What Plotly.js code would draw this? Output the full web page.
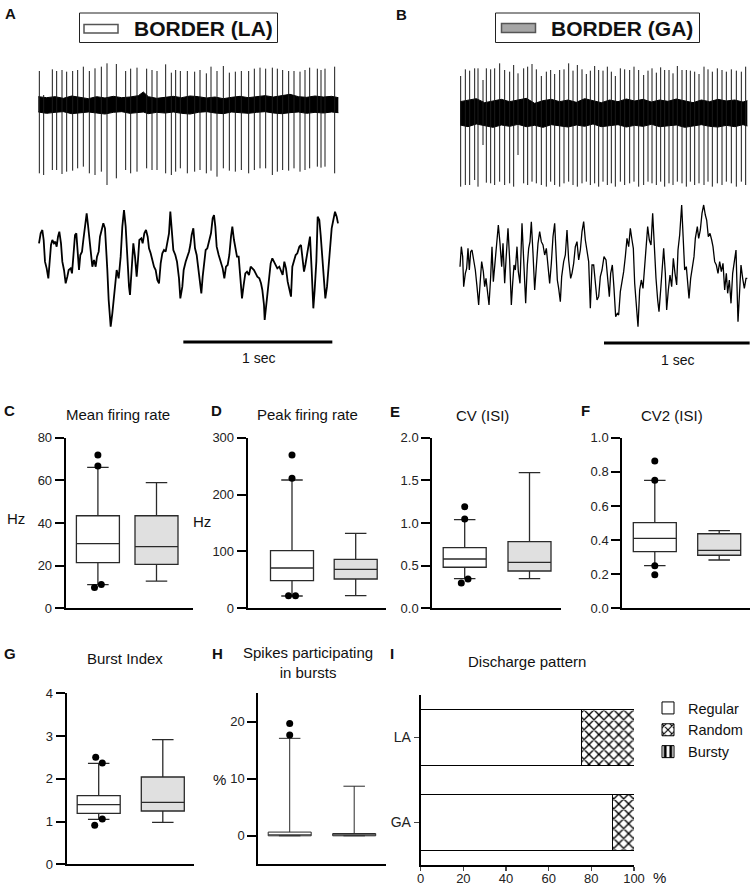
<!DOCTYPE html>
<html><head><meta charset="utf-8">
<script src="https://cdn.plot.ly/plotly-3.0.1.min.js"></script>
<style>html,body{margin:0;padding:0;background:#fff}#chart{width:756px;height:888px}</style>
</head><body><div id="chart"></div>
<script>
// ---------------- DATA ----------------
// Raw traces: horizontal readings in trace units (A: 447 units = 1 s, B: 437 units = 1 s),
// vertical readings in trace units (larger = lower on the page).
const spikeA_x = [118,131,157,170,186,200,218,233,250,268,285,304,321,349,377,392,411,440,456,471,497,514,527,541,562,584,600,619,633,651,670,688,706,724,746,763,780,797,817,832,848,866,882,900,915,929,952,963,975,1004];
const spikeA_top = [213,285,208,213,210,215,213,210,200,213,205,200,190,192,213,206,203,206,210,213,193,218,210,213,213,215,210,220,200,213,198,218,215,213,213,206,203,206,203,206,210,213,213,215,210,203,206,210,206,200];
const spikeA_bot = [520,525,510,510,522,515,512,505,500,520,525,515,555,535,510,520,515,505,510,510,520,525,515,505,520,515,510,520,512,530,505,512,515,510,520,510,505,505,525,515,510,512,505,515,510,505,500,503,500,520];
const noiseA_x = [115,140,165,190,215,240,265,290,315,340,365,390,415,430,445,470,495,520,545,570,595,620,645,670,695,720,745,770,795,820,845,870,895,920,945,970,995,1015];
const noiseA_top = [290,293,290,295,288,292,296,290,294,289,293,291,287,276,290,295,292,289,293,288,290,294,291,296,292,289,293,290,287,291,288,283,290,292,288,291,289,293];
const noiseA_bot = [336,340,337,335,341,338,336,339,342,337,335,340,338,336,341,337,339,336,340,342,337,335,339,341,336,338,340,337,335,339,341,338,336,340,337,339,336,338];
const lfpA_x = [117,122,127,131,135,140,145,150,153,157,162,166,170,174,178,183,187,192,197,202,206,212,216,220,225,229,233,237,241,246,250,255,260,264,268,272,277,282,287,291,296,300,305,310,315,318,322,326,332,337,341,346,350,356,362,367,372,377,381,387,390,395,400,405,410,414,418,424,428,433,438,443,447,452,457,462,467,472,477,482,487,492,497,502,507,511,516,520,526,531,537,541,547,551,557,562,567,571,575,580,585,590,596,600,604,608,613,617,622,627,633,638,642,646,650,656,662,668,673,678,683,688,693,697,702,706,711,716,721,726,731,736,741,747,752,757,762,767,772,778,783,787,792,794,798,803,807,812,817,822,827,832,838,843,848,853,858,863,868,873,877,882,887,892,898,903,908,912,916,921,926,930,935,940,944,949,953,958,962,967,971,976,981,986,990,995,1000,1005,1010,1014];
const lfpA_y = [160,130,120,150,215,235,265,200,165,150,160,155,170,140,125,160,215,240,280,260,240,235,250,200,135,130,175,240,195,185,150,105,70,105,140,180,230,210,230,200,185,140,115,100,115,160,240,330,410,370,330,285,240,265,200,110,60,110,200,290,315,230,160,200,260,210,150,145,160,130,120,140,175,190,215,230,240,270,280,220,190,180,185,150,130,65,120,180,195,215,265,325,290,240,215,200,185,165,135,115,175,195,250,280,310,260,205,180,175,150,130,85,75,110,170,195,215,235,265,230,225,195,140,110,150,175,200,200,255,325,285,250,245,255,230,235,240,250,260,265,280,300,345,390,350,310,260,220,205,215,225,235,230,245,255,215,235,275,300,320,230,210,195,190,170,165,205,245,225,195,165,140,240,355,300,215,80,90,135,210,270,325,290,220,170,115,90,65,80,100];

const spikeB_x = [248,262,275,290,300,315,325,338,350,365,380,395,407,420,437,449,462,475,490,505,518,530,545,558,572,585,598,612,625,637,650,662,675,688,700,712,727,740,755,768,782,797,810,822,835,848,860,873,885,898,912,925,937,950,963,978,990,1003,1018,1032,1045,1060,1075,1090,1103];
const spikeB_top = [228,208,212,205,205,240,205,208,205,190,210,215,195,220,205,200,192,208,228,215,210,222,210,208,190,212,195,208,222,212,198,210,212,200,215,228,205,208,210,200,210,225,212,205,218,202,210,210,220,198,210,210,212,215,222,200,208,215,205,210,215,208,212,215,200];
const spikeB_bot = [560,555,555,540,560,435,548,550,555,545,555,550,560,465,550,555,545,550,555,560,545,555,560,550,545,555,560,550,545,555,550,560,545,555,550,560,545,555,550,545,560,555,545,550,555,545,560,550,555,545,550,560,545,555,550,555,545,560,550,555,545,550,560,545,555];
const noiseB_x = [246,270,295,320,345,370,395,420,445,470,495,520,545,570,595,620,645,670,695,720,745,770,795,820,845,870,895,920,945,970,995,1020,1045,1070,1095,1108];
const noiseB_top = [305,300,296,308,302,298,305,300,295,310,302,298,305,300,307,296,302,308,300,305,297,303,298,306,300,304,297,302,308,300,305,298,303,300,306,302];
const noiseB_bot = [375,380,372,378,382,375,379,373,380,376,382,374,378,381,375,379,372,380,377,374,381,376,379,373,380,377,375,382,378,374,379,381,376,380,374,378];
const lfpB_x = [246,250,254,257,262,266,270,274,278,282,287,292,297,302,307,311,316,320,324,329,333,338,342,346,351,356,361,366,371,375,380,384,390,395,400,404,408,412,417,421,426,432,437,443,448,452,456,460,465,470,475,480,485,490,495,500,505,510,515,520,525,530,534,538,542,547,551,557,562,567,572,578,582,587,592,597,602,607,612,617,622,627,632,637,642,647,652,657,662,667,672,678,684,689,694,698,703,708,713,718,722,727,732,737,742,747,752,757,762,766,770,775,780,785,790,795,800,805,809,814,819,824,829,834,839,843,848,852,857,862,866,871,876,881,886,891,896,900,905,911,915,920,925,929,933,938,943,948,952,958,962,967,972,977,982,986,991,996,1001,1005,1010,1015,1020,1025,1030,1035,1040,1045,1049,1054,1059,1064,1069,1074,1080,1084,1089,1094,1099,1104,1108];
const lfpB_y = [230,170,200,290,250,235,175,240,185,180,210,240,290,345,270,215,245,290,265,310,345,260,170,275,220,150,105,160,230,160,280,210,115,210,345,280,225,240,170,245,280,100,215,340,225,175,155,95,190,300,230,160,125,155,165,195,175,225,280,220,140,100,180,270,295,335,260,215,195,120,210,265,250,220,170,155,210,180,125,95,150,185,215,355,225,225,270,330,320,260,240,200,210,280,320,250,225,295,380,370,375,305,280,245,200,145,170,115,150,175,280,350,410,300,270,295,225,160,110,150,165,70,175,265,330,365,300,230,175,250,360,300,255,290,205,250,285,180,135,45,155,240,230,280,325,265,235,200,145,110,145,120,70,45,75,90,140,130,150,170,215,225,250,215,245,220,300,250,310,270,340,250,215,180,395,305,225,265,295,265,265];

// Box plots: [lower whisker, Q1, median, Q3, upper whisker]
const groups = ['LA', 'GA'];
const meanRateLA = [11.1, 21.4, 30.3, 43.4, 66.1];
const meanRateGA = [12.7, 20.6, 28.9, 43.4, 58.9];
const meanRateOutLA = [71.9, 66.7, 11.2, 9.7];
const peakRateLA = [21.6, 48.5, 70.9, 101.3, 225.6];
const peakRateGA = [22.2, 51.5, 68.6, 86.2, 131.9];
const peakRateOutLA = [269.7, 228.6, 22, 22];
const cvLA = [0.347, 0.481, 0.578, 0.711, 1.039];
const cvGA = [0.347, 0.437, 0.539, 0.781, 1.59];
const cvOutLA = [1.191, 1.047, 0.343, 0.297];
const cv2LA = [0.25, 0.332, 0.41, 0.502, 0.75];
const cv2GA = [0.283, 0.311, 0.34, 0.437, 0.455];
const cv2OutLA = [0.863, 0.75, 0.25, 0.197];
const burstLA = [1.053, 1.193, 1.394, 1.605, 2.363];
const burstGA = [0.982, 1.247, 1.45, 2.042, 2.915];
const burstOutLA = [2.503, 2.37, 1.06, 0.912];
const spikesBurstLA = [0, 0, 0.1, 0.65, 17.1];
const spikesBurstGA = [0, 0, 0.05, 0.4, 8.7];
const spikesBurstOutLA = [19.7, 17.7];

// Discharge pattern (%), order = groups
const patternNames = ['Regular', 'Random', 'Bursty'];
const regularPct = [75.5, 89.8];
const randomPct = [24.5, 10.2];
const burstyPct = [0, 0];

// ---------------- LAYOUT HELPERS ----------------
const W = 756, H = 888;
const FONT = 'Liberation Sans, Arial, sans-serif';
const dom = (a, b) => [a / W, b / W];
const domY = (top, bot) => [1 - bot / H, 1 - top / H];
const tA = v => (v - 117) / 447;
const tB = v => (v - 248) / 437;

const traces = [];
const layout = {
  width: W, height: H, autosize: false,
  margin: {l: 0, r: 0, t: 0, b: 0},
  paper_bgcolor: '#fff', plot_bgcolor: 'rgba(0,0,0,0)',
  font: {family: FONT, color: '#111'},
  showlegend: true,
  barmode: 'stack', bargap: 0.333,
  shapes: [], annotations: []
};
const hidden = {visible: false, fixedrange: true};

// ---- Panels A & B : raw traces ----
function rawPanel(xName, ySpk, yLfp, conv, sx, stop, sbot, nx, ntop, nbot, lx, ly, lw) {
  const xa = 'x' + (xName === 1 ? '' : xName);
  const ys = 'y' + (ySpk === 1 ? '' : ySpk);
  const yl = 'y' + yLfp;
  traces.push({type: 'scatter', mode: 'lines', x: nx.map(conv), y: nbot, xaxis: xa, yaxis: ys,
    line: {color: '#000', width: 1}, showlegend: false, hoverinfo: 'skip'});
  traces.push({type: 'scatter', mode: 'lines', x: nx.map(conv), y: ntop, xaxis: xa, yaxis: ys,
    fill: 'tonexty', fillcolor: '#000', line: {color: '#000', width: 1}, showlegend: false, hoverinfo: 'skip'});
  const xs = [], yv = [];
  sx.forEach((v, i) => { xs.push(conv(v), conv(v), null); yv.push(stop[i], sbot[i], null); });
  traces.push({type: 'scatter', mode: 'lines', x: xs, y: yv, xaxis: xa, yaxis: ys,
    line: {color: '#1a1a1a', width: 1}, showlegend: false, hoverinfo: 'skip'});
  traces.push({type: 'scatter', mode: 'lines', x: lx.map(conv), y: ly, xaxis: xa, yaxis: yl,
    line: {color: '#000', width: lw}, showlegend: false, hoverinfo: 'skip'});
}
rawPanel(1, 1, 2, tA, spikeA_x, spikeA_top, spikeA_bot, noiseA_x, noiseA_top, noiseA_bot, lfpA_x, lfpA_y, 1.8);
rawPanel(2, 3, 4, tB, spikeB_x, spikeB_top, spikeB_bot, noiseB_x, noiseB_top, noiseB_bot, lfpB_x, lfpB_y, 1.3);
layout.xaxis = Object.assign({domain: dom(30, 345), range: [tA(90), tA(1035)], anchor: 'y'}, hidden);
layout.yaxis = Object.assign({domain: domY(55, 195), range: [585, 165], anchor: 'x'}, hidden);
layout.yaxis2 = Object.assign({domain: domY(195, 335), range: [435, 15], anchor: 'x'}, hidden);
layout.xaxis2 = Object.assign({domain: dom(450, 756), range: [tB(216), tB(1134)], anchor: 'y3'}, hidden);
layout.yaxis3 = Object.assign({domain: domY(55, 200), range: [600, 165], anchor: 'x2'}, hidden);
layout.yaxis4 = Object.assign({domain: domY(195, 335), range: [435, 15], anchor: 'x2'}, hidden);

// scale bars (1 s)
const SCALE_SEC = 1;
layout.shapes.push({type: 'line', xref: 'x', yref: 'paper', x0: tA(997) - SCALE_SEC, x1: tA(997), y0: 1 - 342 / H, y1: 1 - 342 / H, line: {color: '#000', width: 3}});
layout.shapes.push({type: 'line', xref: 'x2', yref: 'paper', x0: tB(1115) - SCALE_SEC, x1: tB(1115), y0: 1 - 343 / H, y1: 1 - 343 / H, line: {color: '#000', width: 3}});

// Legend boxes at top
function px(x, y) { return {x: x / W, y: 1 - y / H}; }
function rect(x0, y0, x1, y1, fill, lc, lw) {
  layout.shapes.push({type: 'rect', xref: 'paper', yref: 'paper', x0: x0 / W, x1: x1 / W, y0: 1 - y1 / H, y1: 1 - y0 / H,
    fillcolor: fill, line: {color: lc, width: lw}});
}
rect(79.5, 13, 277.5, 42.5, 'rgba(0,0,0,0)', '#222', 1);
rect(84, 24.5, 118, 33, '#fff', '#555', 1.5);
rect(495.5, 13, 699.5, 42.5, 'rgba(0,0,0,0)', '#222', 1);
rect(501.5, 23.5, 535.5, 32.5, '#a6a6a6', '#555', 1.5);

function ann(text, x, y, size, opts) {
  const p = px(x, y);
  layout.annotations.push(Object.assign({text: text, xref: 'paper', yref: 'paper', x: p.x, y: p.y,
    xanchor: 'center', yanchor: 'middle', showarrow: false, font: {family: FONT, size: size, color: '#111'}}, opts || {}));
}
ann('<b>BORDER (LA)</b>', 203, 28, 21);
ann('<b>BORDER (GA)</b>', 622, 28, 21);
ann('1 sec', 258, 358, 14);
ann('1 sec', 677, 360, 14);

// ---- Box plot panels ----
const boxPanels = [
  {n: 3, xs: 65.7, xe: 193.3, cL: 97.9, cG: 156.5, top: 437.7, bot: 608.3, yr: [0, 80], tv: [0, 20, 40, 60, 80], fmt: '', LA: meanRateLA, GA: meanRateGA, out: meanRateOutLA, jit: [0, 0, 3.4, -3.4]},
  {n: 4, xs: 247.7, xe: 386, cL: 292, cG: 355.7, top: 437.7, bot: 608.3, yr: [0, 300], tv: [0, 100, 200, 300], fmt: '', LA: peakRateLA, GA: peakRateGA, out: peakRateOutLA, jit: [0, 0, -3.5, 3.5]},
  {n: 5, xs: 432.3, xe: 561, cL: 464.7, cG: 529.5, top: 437.7, bot: 608.3, yr: [0, 2], tv: [0, 0.5, 1, 1.5, 2], fmt: '.1f', LA: cvLA, GA: cvGA, out: cvOutLA, jit: [0, 0, 3.3, -3.4]},
  {n: 6, xs: 622.3, xe: 750, cL: 654.8, cG: 719.2, top: 437.7, bot: 608.3, yr: [0, 1], tv: [0, 0.2, 0.4, 0.6, 0.8, 1], fmt: '.1f', LA: cv2LA, GA: cv2GA, out: cv2OutLA, jit: [0, 0, 0, 0]},
  {n: 7, xs: 66.7, xe: 194, cL: 98.7, cG: 162.8, top: 693.3, bot: 864.3, yr: [0, 4], tv: [0, 1, 2, 3, 4], fmt: '', LA: burstLA, GA: burstGA, out: burstOutLA, jit: [-3, 3.6, 3.6, -4]},
  {n: 8, xs: 258.3, xe: 386, cL: 289.7, cG: 354.2, top: 693.3, bot: 864.3, yr: [-5, 25], tv: [0, 10, 20], fmt: '', LA: spikesBurstLA, GA: spikesBurstGA, out: spikesBurstOutLA, jit: [0, 0], lw: 1}
];
boxPanels.forEach(p => {
  const xa = 'x' + p.n, ya = 'y' + (p.n + 2);
  const u = p.cG - p.cL;
  const bw = 43 / u;
  layout['xaxis' + p.n] = {domain: dom(p.xs, p.xe), range: [-(p.cL - p.xs) / u, (p.xe - p.cL) / u], anchor: ya,
    showline: true, linewidth: 2, linecolor: '#000', ticks: '', showticklabels: false, showgrid: false, zeroline: false, fixedrange: true};
  layout['yaxis' + (p.n + 2)] = {domain: domY(p.top, p.bot), range: p.yr, anchor: xa,
    showline: true, linewidth: 2, linecolor: '#000', ticks: 'outside', ticklen: 9, tickwidth: 2, tickcolor: '#000',
    tickvals: p.tv, tickformat: p.fmt, tickfont: {family: FONT, size: 13, color: '#222'},
    showgrid: false, zeroline: false, fixedrange: true};
  [[p.LA, 0, '#ffffff'], [p.GA, 1, '#e0e0e0']].forEach(([s, pos, fc]) => {
    traces.push({type: 'box', x: [pos], lowerfence: [s[0]], q1: [s[1]], median: [s[2]], q3: [s[3]], upperfence: [s[4]],
      xaxis: xa, yaxis: ya, width: bw, whiskerwidth: 0.5, fillcolor: fc, line: {color: '#2a2a2a', width: p.lw || 1.3},
      boxpoints: false, showlegend: false, hoverinfo: 'skip'});
  });
  traces.push({type: 'scatter', mode: 'markers', x: p.out.map((v, i) => p.jit[i] / u), y: p.out, xaxis: xa, yaxis: ya,
    marker: {color: '#000', size: 7}, showlegend: false, hoverinfo: 'skip', cliponaxis: false});
});

// ---- Panel I : discharge pattern ----
layout.xaxis9 = {domain: dom(420.7, 634), range: [0, 100], anchor: 'y11', showline: true, linewidth: 2, linecolor: '#000',
  ticks: 'outside', ticklen: 4, tickwidth: 1.5, tickvals: [0, 20, 40, 60, 80, 100], ticklabelstandoff: -4,
  tickfont: {family: FONT, size: 13, color: '#222'}, showgrid: false, zeroline: false, fixedrange: true};
layout.yaxis11 = {domain: domY(695, 865), type: 'category', categoryorder: 'array', categoryarray: ['GA', 'LA'],
  range: [-0.5, 1.5], anchor: 'x9', showline: true, linewidth: 2, linecolor: '#000',
  ticks: 'outside', ticklen: 5, tickwidth: 1.5, tickfont: {family: FONT, size: 14, color: '#222'},
  showgrid: false, zeroline: false, fixedrange: true};
const barLine = {color: '#000', width: 1};
traces.push({type: 'bar', orientation: 'h', name: patternNames[0], y: groups, x: regularPct, xaxis: 'x9', yaxis: 'y11',
  marker: {color: '#fff', line: barLine}, hoverinfo: 'skip'});
traces.push({type: 'bar', orientation: 'h', name: patternNames[1], y: groups, x: randomPct, xaxis: 'x9', yaxis: 'y11',
  marker: {color: '#fff', line: barLine, pattern: {shape: 'x', fgcolor: '#000', bgcolor: '#fff', size: 7, solidity: 0.35}}, hoverinfo: 'skip'});
traces.push({type: 'bar', orientation: 'h', name: patternNames[2], y: groups, x: burstyPct, xaxis: 'x9', yaxis: 'y11',
  marker: {color: '#fff', line: barLine, pattern: {shape: '|', fgcolor: '#000', bgcolor: '#fff', size: 7, solidity: 0.5}}, hoverinfo: 'skip'});
layout.legend = {x: 648 / W, y: 1 - 692 / H, xanchor: 'left', yanchor: 'top', traceorder: 'normal',
  font: {family: FONT, size: 14.5, color: '#111'}, bgcolor: 'rgba(0,0,0,0)', itemwidth: 30, tracegroupgap: 0};

// ---- Labels ----
[['A', 10, 14], ['B', 401, 15], ['C', 9, 410], ['D', 216, 410], ['E', 395, 411], ['F', 585.5, 410],
 ['G', 9.7, 653], ['H', 217, 653], ['I', 392, 653]].forEach(([t, x, y]) => ann('<b>' + t + '</b>', x, y, 15));
ann('Mean firing rate', 117.5, 414, 15);
ann('Peak firing rate', 307.5, 414, 15);
ann('CV (ISI)', 482.5, 415, 15);
ann('CV2 (ISI)', 671.5, 415, 15);
ann('Burst Index', 125, 658, 15);
ann('Spikes participating<br>in bursts', 308, 662, 15);
ann('Discharge pattern', 526.7, 661, 15);
ann('Hz', 16, 518, 15);
ann('Hz', 202, 521.7, 15);
ann('%', 219.5, 779, 15);
ann('%', 659, 877, 15);

Plotly.newPlot('chart', traces, layout, {staticPlot: true, displayModeBar: false});
</script></body></html>
